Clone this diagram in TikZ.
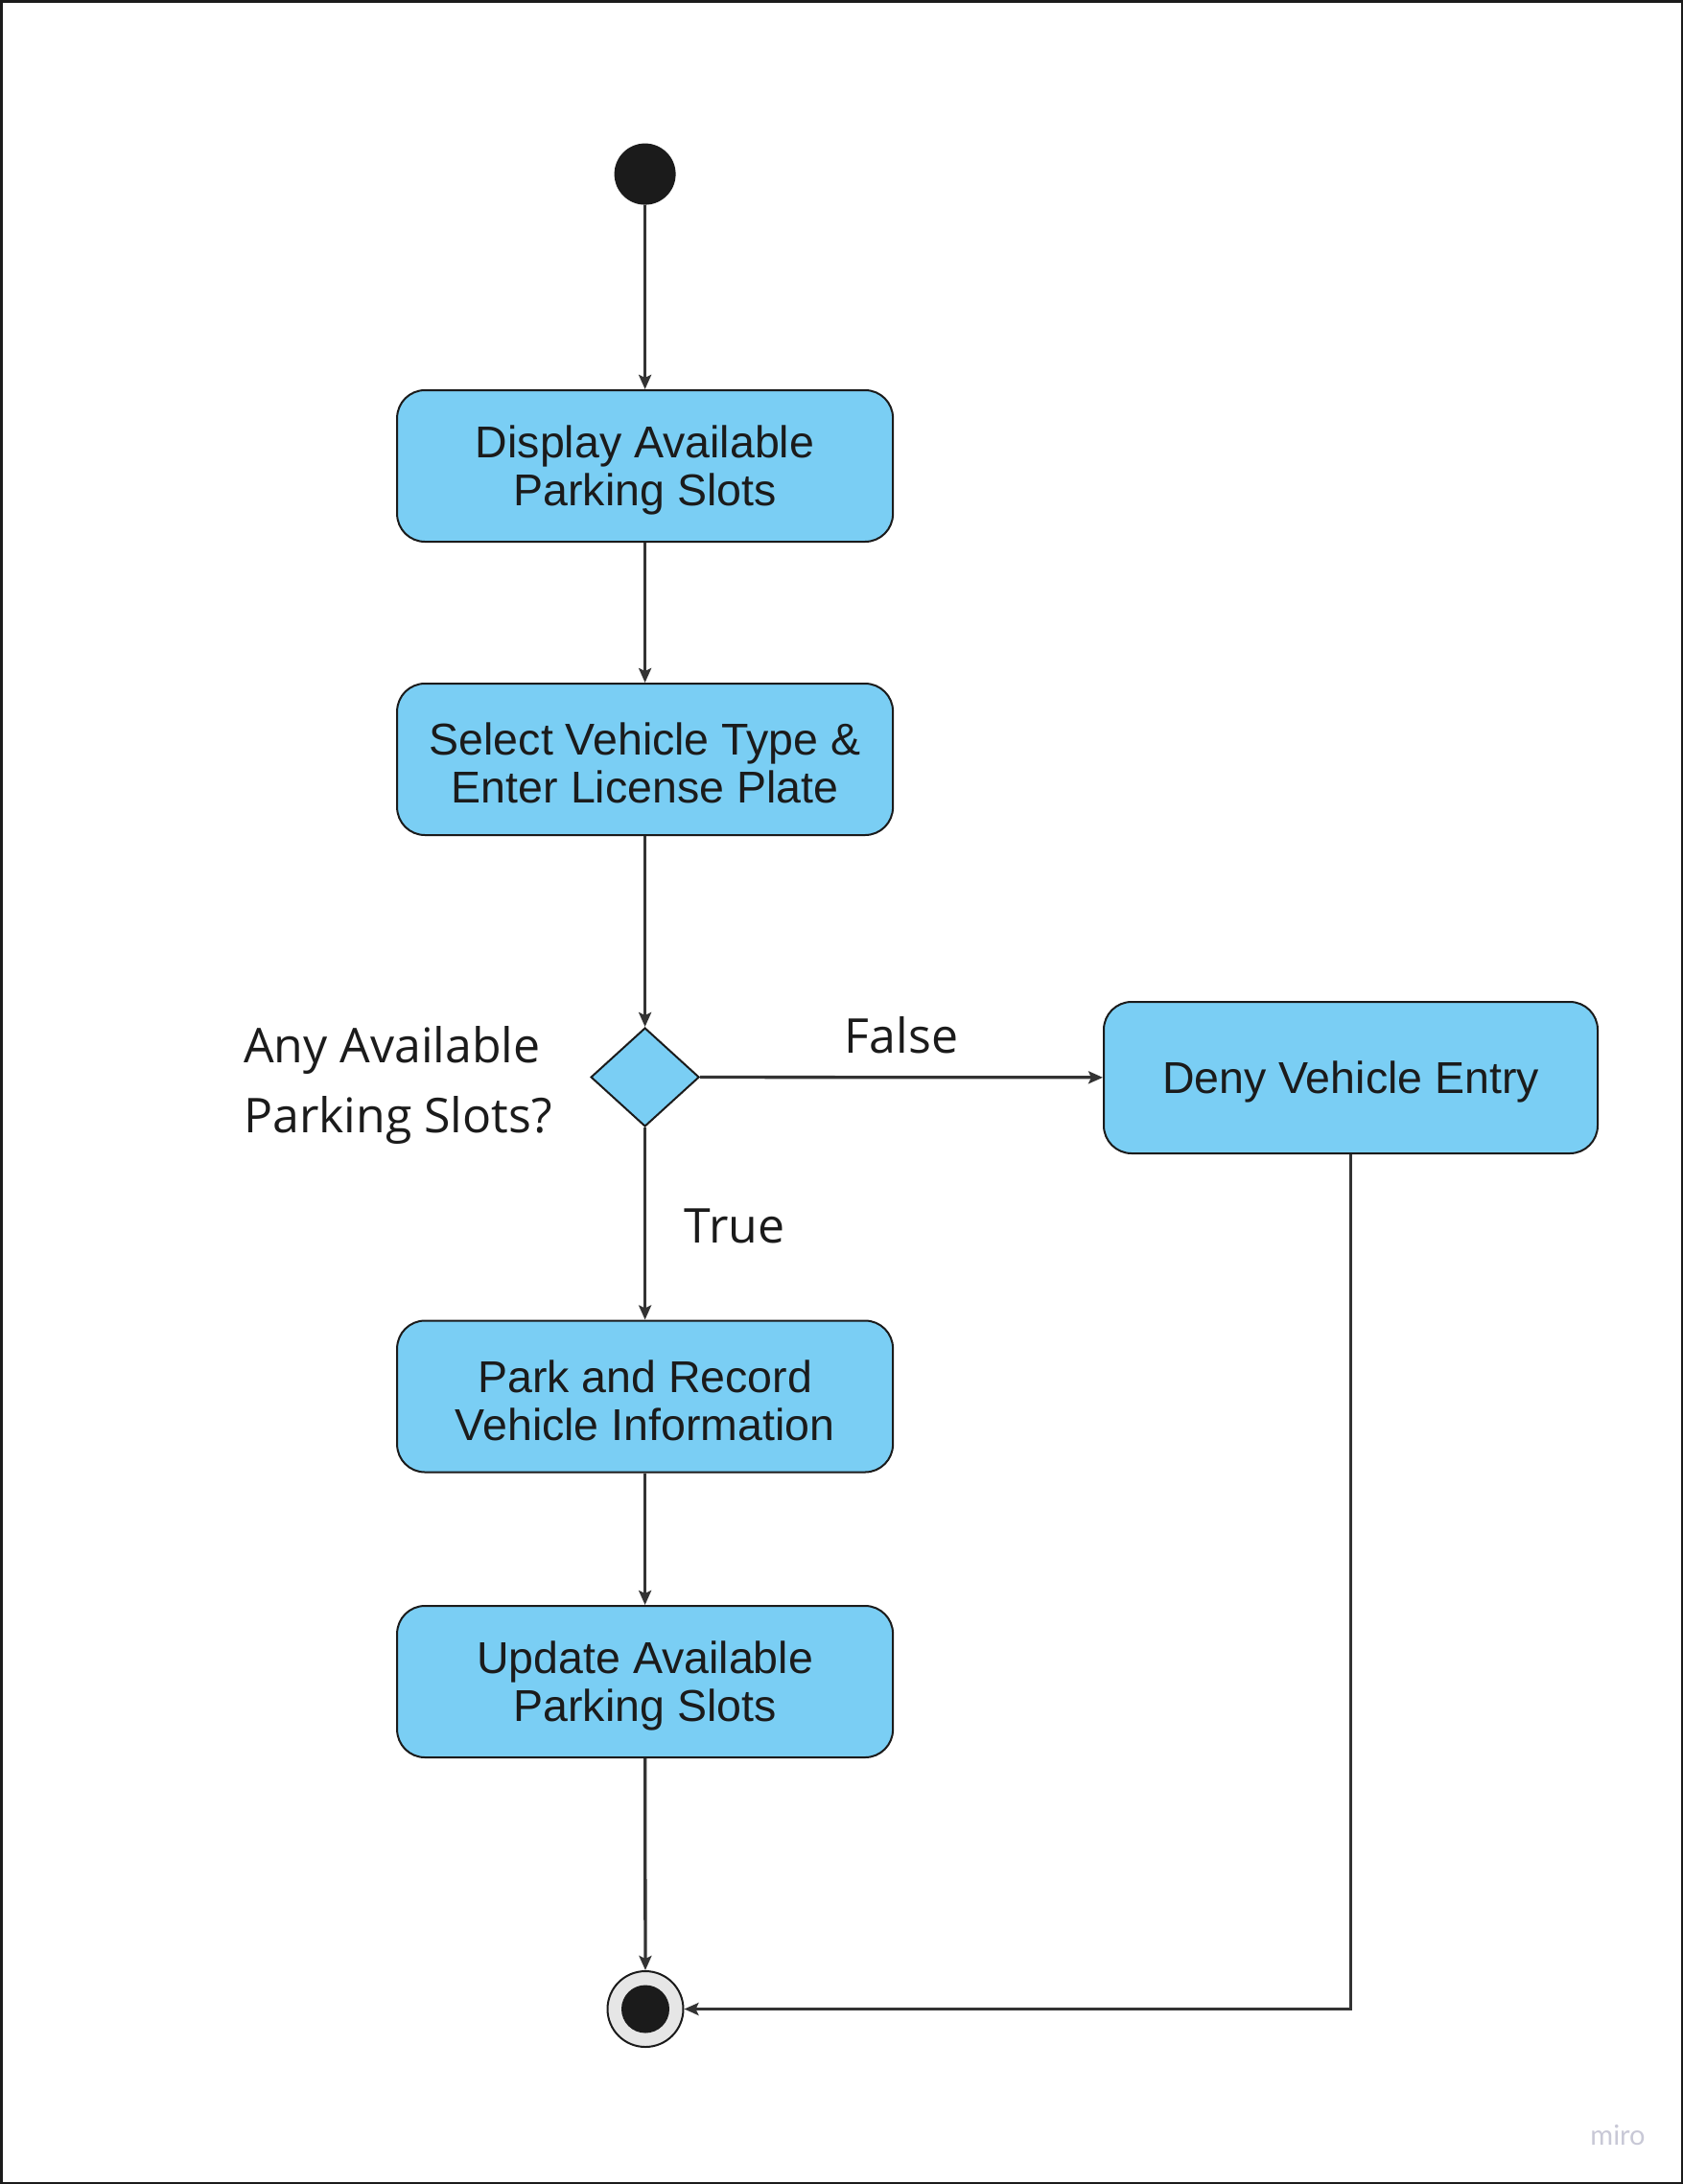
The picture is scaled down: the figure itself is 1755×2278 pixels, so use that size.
\documentclass[tikz,border=0pt]{standalone}
\usepackage{fontspec}
\setmainfont{Liberation Sans}
\newfontfamily\opensans{Open Sans}
\newfontfamily\latofont{Lato}
\usetikzlibrary{arrows.meta,shapes.geometric}
\definecolor{boxblue}{RGB}{122,206,244}
\definecolor{linegray}{RGB}{51,51,51}
\definecolor{dotblack}{RGB}{27,27,27}
\definecolor{endgray}{RGB}{230,230,230}
\definecolor{mirogray}{RGB}{200,200,214}
\newcommand{\topstrut}{\rule{0pt}{42pt}}
\tikzset{
  actbox/.style={draw=dotblack, line width=2pt, fill=boxblue, rounded corners=29pt,
    minimum width=517pt, minimum height=158pt, align=center, inner sep=0pt,
    font=\fontsize{46.5}{50}\selectfont, text=dotblack},
  flow/.style={draw=linegray, line width=3.3pt, -{Stealth[length=15pt,width=13pt,inset=3pt]}},
  lbl/.style={font=\opensans\fontsize{50}{73}\selectfont, text=dotblack, inner sep=0pt}
}
\begin{document}
\begin{tikzpicture}[x=1pt,y=-1pt]
\path[use as bounding box] (0,0) rectangle (1755,2278);
\draw[dotblack, line width=2.5pt] (1.25,1.25) rectangle (1753.75,2276.75);

\node[circle, fill=dotblack, minimum size=64pt, inner sep=0pt] (start) at (672.6,181.6) {};
\node[actbox] (b1) at (672.6,486) {\topstrut Display Available\\Parking Slots};
\node[actbox] (b2) at (672.6,792) {\topstrut Select Vehicle Type \&\\Enter License Plate};
\node[diamond, draw=dotblack, line width=2pt, fill=boxblue, minimum width=113pt, minimum height=103pt, inner sep=0pt] (dia) at (672.6,1123.5) {};
\node[actbox, minimum width=515pt] (deny) at (1408.5,1124) {\topstrut Deny Vehicle Entry};
\node[actbox] (b3) at (672.6,1456.5) {\topstrut Park and Record\\Vehicle Information};
\node[actbox] (b4) at (672.6,1754) {\topstrut Update Available\\Parking Slots};
\node[circle, draw=dotblack, line width=2pt, fill=endgray, minimum size=79pt, inner sep=0pt] (end) at (673,2095.5) {};
\node[circle, fill=dotblack, minimum size=50pt, inner sep=0pt] (endin) at (673,2095.5) {};

\node[lbl, anchor=west, align=left] (q) at (254,1132) {Any Available\\Parking Slots?};
\node[lbl] (false) at (940,1080) {False};
\node[lbl] (true) at (766,1279) {True};
\node[font=\latofont\fontsize{29}{34}\selectfont, text=mirogray] (miro) at (1687,2227) {miro};

\draw[flow] (start) -- (b1);
\draw[flow] (b1) -- (b2);
\draw[flow] (b2) -- (dia);
\draw[flow] (dia) -- (deny);
\draw[flow] (dia) -- (b3);
\draw[flow] (b3) -- (b4);
\draw[flow] (b4) -- (end);
\draw[flow] (deny.south) |- (end);
\end{tikzpicture}
\end{document}
